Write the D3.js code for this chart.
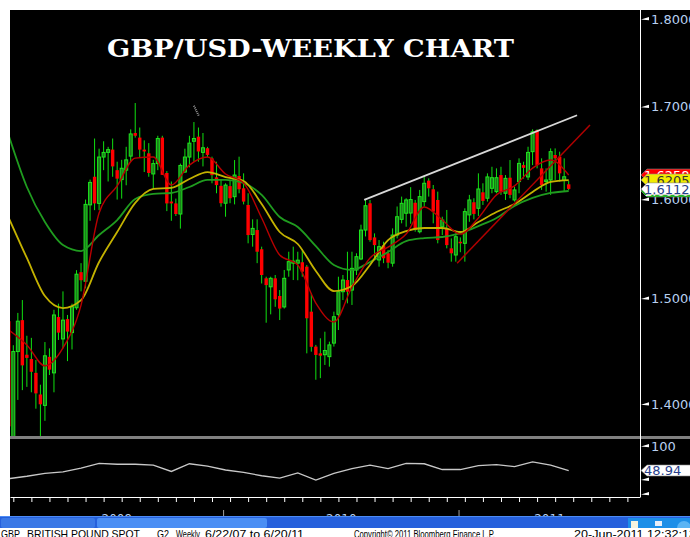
<!DOCTYPE html>
<html>
<head>
<meta charset="utf-8">
<script src="https://cdnjs.cloudflare.com/ajax/libs/d3/7.8.5/d3.min.js"></script>
<style>
  html, body { margin: 0; padding: 0; background: #fff; }
  svg { display: block; }
</style>
</head>
<body>
<div class="canvas"></div>
<script>
// weekly bars (Monday dated), GBP/USD
const firstWeek = new Date(2009, 1, 2);
const lastWeek = new Date(2011, 5, 20);
const weeks = d3.timeMonday.range(firstWeek, d3.timeDay.offset(lastWeek, 1));

const opens = [
  1.478, 1.368, 1.449, 1.479, 1.446, 1.442, 1.429, 1.409, 1.399, 1.444,
  1.429, 1.482, 1.461, 1.480, 1.467, 1.491, 1.526, 1.517, 1.5945, 1.624,
  1.596, 1.645, 1.650, 1.653, 1.631, 1.621, 1.631, 1.646, 1.671, 1.666,
  1.653, 1.649, 1.627, 1.638, 1.666, 1.628, 1.598, 1.596, 1.585, 1.629,
  1.645, 1.662, 1.667, 1.650, 1.6545, 1.6436, 1.6234, 1.6144, 1.5962, 1.6141,
  1.603, 1.6248, 1.6118, 1.5944, 1.5640, 1.5685, 1.549, 1.5199, 1.5115, 1.5199,
  1.5025, 1.4918, 1.5282, 1.535, 1.535, 1.5359, 1.5315, 1.4872, 1.4537, 1.4473,
  1.446, 1.4442, 1.457, 1.4846, 1.5067, 1.5182, 1.5083, 1.5282, 1.5392, 1.5685,
  1.5961, 1.561, 1.5382, 1.5529, 1.5449, 1.535, 1.5634, 1.5795, 1.5858, 1.586,
  1.5967, 1.5668, 1.5979, 1.6199, 1.6108, 1.5996, 1.5719, 1.5702, 1.5499, 1.5432,
  1.5566, 1.555, 1.5841, 1.5972, 1.5909, 1.6076, 1.6014, 1.6118, 1.6083, 1.6258,
  1.6066, 1.623, 1.5996, 1.6189, 1.6364, 1.6238, 1.6508, 1.6743, 1.6329, 1.6189,
  1.6206, 1.6472, 1.6454, 1.620, 1.616
];
const highs = [
  1.490, 1.455, 1.486, 1.4985, 1.464, 1.462, 1.441, 1.418, 1.458, 1.452,
  1.489, 1.495, 1.507, 1.484, 1.495, 1.528, 1.535, 1.600, 1.621, 1.665,
  1.654, 1.662, 1.656, 1.665, 1.640, 1.642, 1.656, 1.675, 1.704, 1.677,
  1.663, 1.660, 1.642, 1.668, 1.668, 1.630, 1.619, 1.601, 1.638, 1.654,
  1.668, 1.683, 1.677, 1.671, 1.656, 1.6454, 1.640, 1.6206, 1.6171, 1.6206,
  1.6418, 1.6454, 1.6276, 1.6066, 1.5795, 1.5795, 1.5516, 1.5215, 1.5215, 1.5232,
  1.5083, 1.5282, 1.5465, 1.5516, 1.5465, 1.549, 1.5332, 1.505, 1.4553, 1.4616,
  1.4679, 1.4584, 1.4872, 1.5215, 1.5232, 1.5465, 1.5465, 1.5449, 1.574, 1.5996,
  1.5996, 1.5651, 1.5583, 1.5566, 1.5482, 1.5702, 1.5928, 1.6031, 1.6014, 1.613,
  1.5996, 1.6101, 1.625, 1.6223, 1.6153, 1.6083, 1.5822, 1.5892, 1.560, 1.5651,
  1.561, 1.5909, 1.6049, 1.6014, 1.6276, 1.6171, 1.6276, 1.6346, 1.6329, 1.6346,
  1.6258, 1.6418, 1.6136, 1.6436, 1.640, 1.6561, 1.675, 1.675, 1.6436, 1.6329,
  1.6543, 1.6543, 1.6508, 1.6436, 1.6196
];
const lows = [
  1.372, 1.355, 1.404, 1.413, 1.416, 1.411, 1.396, 1.360, 1.385, 1.427,
  1.411, 1.460, 1.452, 1.440, 1.451, 1.489, 1.507, 1.510, 1.578, 1.589,
  1.589, 1.631, 1.619, 1.624, 1.600, 1.601, 1.615, 1.640, 1.666, 1.645,
  1.629, 1.624, 1.612, 1.631, 1.626, 1.588, 1.578, 1.583, 1.570, 1.628,
  1.634, 1.640, 1.640, 1.635, 1.645, 1.6171, 1.6066, 1.5926, 1.5822, 1.5962,
  1.595, 1.6066, 1.595, 1.555, 1.5516, 1.535, 1.5148, 1.4765, 1.4846, 1.4919,
  1.4791, 1.4902, 1.5215, 1.5182, 1.518, 1.5215, 1.4473, 1.4489, 1.4226, 1.4241,
  1.4364, 1.4348, 1.4537, 1.4695, 1.4985, 1.4953, 1.4937, 1.5232, 1.538, 1.562,
  1.5566, 1.5382, 1.5315, 1.535, 1.5299, 1.5315, 1.560, 1.5754, 1.5719, 1.575,
  1.5668, 1.5651, 1.5926, 1.6031, 1.5754, 1.555, 1.5634, 1.5499, 1.5365, 1.5365,
  1.546, 1.5365, 1.577, 1.5795, 1.583, 1.5944, 1.5979, 1.6066, 1.6066, 1.6049,
  1.5996, 1.6014, 1.5979, 1.6066, 1.622, 1.6206, 1.6364, 1.6329, 1.6101, 1.6083,
  1.6049, 1.6206, 1.6189, 1.6083, 1.610
];
const closes = [
  1.380, 1.449, 1.478, 1.436, 1.443, 1.430, 1.410, 1.400, 1.445, 1.432,
  1.484, 1.467, 1.479, 1.468, 1.492, 1.524, 1.518, 1.595, 1.618, 1.596,
  1.645, 1.650, 1.653, 1.635, 1.622, 1.633, 1.642, 1.670, 1.668, 1.653,
  1.651, 1.628, 1.638, 1.665, 1.626, 1.596, 1.596, 1.585, 1.636, 1.645,
  1.660, 1.665, 1.651, 1.655, 1.6473, 1.6257, 1.6152, 1.5962, 1.6152, 1.6014,
  1.6258, 1.6108, 1.5979, 1.5634, 1.5702, 1.5465, 1.5232, 1.5132, 1.5199, 1.4992,
  1.4902, 1.5199, 1.5365, 1.537, 1.538, 1.5265, 1.4808, 1.4535, 1.4458, 1.4451,
  1.450, 1.4553, 1.4823, 1.5067, 1.5182, 1.5067, 1.5298, 1.5415, 1.5685, 1.5936,
  1.5583, 1.5532, 1.5516, 1.5399, 1.5355, 1.5634, 1.5822, 1.5961, 1.5996, 1.600,
  1.5685, 1.6031, 1.6171, 1.6118, 1.5875, 1.5583, 1.5788, 1.5532, 1.5449, 1.5617,
  1.555, 1.5875, 1.5996, 1.5851, 1.6111, 1.5986, 1.6238, 1.623, 1.623, 1.6083,
  1.6223, 1.6049, 1.6101, 1.6382, 1.6335, 1.650, 1.6723, 1.6364, 1.6152, 1.6206,
  1.6508, 1.6436, 1.6276, 1.624, 1.6112
];

// moving averages + RSI, read every 4th week
const maRed = [
  1.4695, 1.4552, 1.4355, 1.4524, 1.4936, 1.5861, 1.6143, 1.6439, 1.6450, 1.6153,
  1.6364, 1.6450, 1.6269, 1.6174, 1.5809, 1.5432, 1.5332, 1.4956, 1.4772, 1.5113,
  1.5402, 1.5512, 1.5644, 1.5923, 1.5788, 1.5644, 1.5809, 1.6049, 1.6143, 1.6332,
  1.6418, 1.6258
];
const maYellow = [
  1.5809, 1.5402, 1.5024, 1.4907, 1.4985, 1.5362, 1.5665, 1.5965, 1.6111, 1.6122,
  1.6216, 1.6290, 1.6237, 1.6195, 1.5954, 1.5665, 1.5543, 1.5272, 1.5073, 1.5123,
  1.5332, 1.5583, 1.5675, 1.5706, 1.5706, 1.5665, 1.5767, 1.5871, 1.5954, 1.6080,
  1.6185, 1.6205
];
const maGreen = [
  1.668, 1.6132, 1.5767, 1.5532, 1.5472, 1.5634, 1.5788, 1.6006, 1.6059, 1.6069,
  1.6132, 1.6206, 1.6206, 1.6174, 1.6049, 1.5819, 1.5716, 1.5522, 1.5332, 1.5282,
  1.5362, 1.5462, 1.5573, 1.5603, 1.5614, 1.5654, 1.5726, 1.5809, 1.5934, 1.6017,
  1.6069, 1.6090
];
const rsiValues = [
  32, 37, 43, 46, 54, 64, 62, 62, 60, 47,
  63, 58, 50, 45, 38, 33, 44, 29, 43, 53,
  60, 53, 64, 63, 51, 51, 59, 61, 57, 67,
  60, 48.94
];

// hand drawn trend lines [date, price]
const upperTrend = [[new Date(2010, 7, 7), 1.5996], [new Date(2011, 6, 3), 1.6905]];
const lowerTrend = [[new Date(2010, 11, 29), 1.535], [new Date(2011, 6, 23), 1.6797]];
const dotNote = [[new Date(2009, 10, 16), 1.701], [new Date(2009, 10, 24), 1.689]];

const priceTicks = [1.4, 1.5, 1.6, 1.7, 1.8];
const rsiTicks = [100, 30, 0];
const years = [2009, 2010, 2011];
const lastClose = 1.6112;

const width = 690;
const height = 537;

const svg = d3.select('.canvas')
  .append('svg')
  .attr('width', width)
  .attr('height', height);

svg.append('rect').attr('width', width).attr('height', height).attr('fill', '#fff');
svg.append('rect')
  .attr('x', 10).attr('y', 10)
  .attr('width', 680).attr('height', 506)
  .attr('fill', '#000');

const defs = svg.append('defs');
defs.append('clipPath').attr('id', 'clipMain')
  .append('rect').attr('x', 10).attr('y', 10).attr('width', 630).attr('height', 426);
defs.append('clipPath').attr('id', 'clipRsi')
  .append('rect').attr('x', 10).attr('y', 440).attr('width', 630).attr('height', 57);

// scales
const x = d3.scaleTime().domain([firstWeek, lastWeek]).range([8.8, 568.7]);
const y = d3.scaleLog().domain([1.4, 1.8]).range([404.3, 19]);
const yRsi = d3.scaleLinear().domain([0, 100]).range([494, 446]);

const bars = weeks.map((date, i) => ({
  date, open: opens[i], high: highs[i], low: lows[i], close: closes[i]
}));
const maWeeks = weeks.filter((d, i) => i % 4 === 0);
const series = arr => maWeeks.map((date, i) => ({ date, value: arr[i] }));

const graph = svg.append('g').attr('clip-path', 'url(#clipMain)');

// wicks
graph.append('g')
  .selectAll('line')
  .data(bars)
  .enter()
  .append('line')
  .attr('x1', d => x(d.date))
  .attr('x2', d => x(d.date))
  .attr('y1', d => y(d.high))
  .attr('y2', d => y(d.low))
  .attr('stroke', '#10e010')
  .attr('stroke-width', 1);

// bodies
graph.append('g')
  .selectAll('rect')
  .data(bars)
  .enter()
  .append('rect')
  .attr('x', d => d.close >= d.open ? x(d.date) - 1.5 : x(d.date) - 1.7)
  .attr('width', d => d.close >= d.open ? 3 : 3.4)
  .attr('y', d => y(Math.max(d.open, d.close)))
  .attr('height', d => Math.max(1, Math.abs(y(d.open) - y(d.close))))
  .attr('fill', d => d.close >= d.open ? '#1c7e1c' : '#ff0000')
  .attr('stroke', d => d.close >= d.open ? '#1ee61e' : 'none')
  .attr('stroke-width', 1);

// moving averages
const maLine = d3.line()
  .x(d => x(d.date))
  .y(d => y(d.value))
  .curve(d3.curveMonotoneX);

graph.append('path').datum(series(maGreen))
  .attr('fill', 'none').attr('stroke', '#1f9c1f').attr('stroke-width', 1.8).attr('d', maLine);
graph.append('path').datum(series(maYellow))
  .attr('fill', 'none').attr('stroke', '#c4b200').attr('stroke-width', 1.8).attr('d', maLine);
graph.append('path').datum(series(maRed))
  .attr('fill', 'none').attr('stroke', '#b80000').attr('stroke-width', 1.4).attr('d', maLine);

// trend lines
const trend = d3.line().x(d => x(d[0])).y(d => y(d[1]));
graph.append('path').datum(upperTrend)
  .attr('fill', 'none').attr('stroke', '#d8d8d8').attr('stroke-width', 1.8).attr('d', trend);
graph.append('path').datum(lowerTrend)
  .attr('fill', 'none').attr('stroke', '#b00000').attr('stroke-width', 1.5).attr('d', trend);
graph.append('path').datum(dotNote)
  .attr('fill', 'none').attr('stroke', '#9a9a9a').attr('stroke-width', 2)
  .attr('stroke-dasharray', '1,1').attr('d', trend);

// title
svg.append('text')
  .text('GBP/USD-WEEKLY CHART')
  .attr('x', 107)
  .attr('y', 56.5)
  .attr('textLength', 407)
  .attr('lengthAdjust', 'spacingAndGlyphs')
  .attr('fill', '#fff')
  .attr('font-family', 'DejaVu Serif')
  .attr('font-weight', 'bold')
  .attr('font-size', 25);

// RSI panel
const rsiGraph = svg.append('g').attr('clip-path', 'url(#clipRsi)');
rsiGraph.append('path')
  .datum(series(rsiValues))
  .attr('fill', 'none')
  .attr('stroke', '#c8c8c8')
  .attr('stroke-width', 1.3)
  .attr('d', d3.line().x(d => x(d.date)).y(d => yRsi(d.value)));

// separator between panels
svg.append('rect').attr('x', 10).attr('y', 436).attr('width', 680).attr('height', 3).attr('fill', '#808080');

// right axis line
svg.append('line')
  .attr('x1', 640.5).attr('x2', 640.5)
  .attr('y1', 10).attr('y2', 497)
  .attr('stroke', '#fff');

const axisColor = '#b8d0f0';
const tickFlag = 'M0,0 L8,-2.5 L8,0.8 Z';

const yAxis = d3.axisRight(y)
  .tickValues(priceTicks)
  .tickFormat(d3.format('.4f'))
  .tickSize(0)
  .tickPadding(10);

const yAxisGroup = svg.append('g')
  .attr('transform', 'translate(641,0)')
  .call(yAxis)
  .attr('font-family', 'DejaVu Sans')
  .attr('font-size', 13);
yAxisGroup.select('.domain').remove();
yAxisGroup.selectAll('text').attr('fill', axisColor);
yAxisGroup.selectAll('.tick').append('path').attr('d', tickFlag).attr('fill', '#fff');

const rsiAxis = d3.axisRight(yRsi)
  .tickValues(rsiTicks)
  .tickFormat(d => d === 100 ? '100' : '')
  .tickSize(0)
  .tickPadding(10);

const rsiAxisGroup = svg.append('g')
  .attr('transform', 'translate(641,0)')
  .call(rsiAxis)
  .attr('font-family', 'DejaVu Sans')
  .attr('font-size', 13);
rsiAxisGroup.select('.domain').remove();
rsiAxisGroup.selectAll('text').attr('fill', axisColor);
rsiAxisGroup.selectAll('.tick').append('path').attr('d', tickFlag).attr('fill', '#fff');

// last value flags on the right axis
const flag = (value, scale, fill, textColor, h) => {
  const yy = scale(value);
  const g = svg.append('g').attr('transform', `translate(641,${yy})`);
  g.append('path')
    .attr('d', `M0,0 L6,${-h / 2} L60,${-h / 2} L60,${h / 2} L6,${h / 2} Z`)
    .attr('fill', fill)
    .attr('stroke', '#8a8a8a')
    .attr('stroke-width', 0.6);
  g.append('text')
    .text(value.toFixed(scale === y ? 4 : 2))
    .attr('x', 3)
    .attr('dy', '0.36em')
    .attr('fill', textColor)
    .attr('font-family', 'DejaVu Sans')
    .attr('font-size', 13);
};

flag(maRed[maRed.length - 1], y, '#ff0000', '#ffffff', 12);
flag(maYellow[maYellow.length - 1], y, '#f2ec00', '#333333', 12);
flag(maGreen[maGreen.length - 1], y, '#00c000', '#ffffff', 12);
flag(lastClose, y, '#ffffff', '#27408b', 12);
flag(rsiValues[rsiValues.length - 1], yRsi, '#ffffff', '#27408b', 11);

// time axis under the RSI panel
const xAxisScale = x.copy().domain([x.invert(10), x.invert(640)]).range([10, 640]);
const xAxis = d3.axisBottom(xAxisScale)
  .tickValues(d3.timeMonday.range(weeks[1], x.invert(640), 4))
  .tickSize(5)
  .tickSizeOuter(0)
  .tickFormat('');

const xAxisGroup = svg.append('g')
  .attr('transform', 'translate(0,497)')
  .call(xAxis);
xAxisGroup.selectAll('path, line').attr('stroke', '#fff');

// year labels and separators (mostly under the taskbar)
years.forEach(yr => {
  const a = Math.max(10, x(new Date(yr, 0, 1)));
  const b = Math.min(640, x(new Date(yr + 1, 0, 1)));
  svg.append('text')
    .text(yr)
    .attr('x', (a + b) / 2)
    .attr('y', 523)
    .attr('text-anchor', 'middle')
    .attr('fill', axisColor)
    .attr('font-family', 'DejaVu Sans')
    .attr('font-size', 12);
  if (yr > 2009) {
    svg.append('line')
      .attr('x1', a).attr('x2', a)
      .attr('y1', 510).attr('y2', 516)
      .attr('stroke', '#a0a0a0');
  }
});

// windows taskbar strip
svg.append('rect').attr('x', 0).attr('y', 516).attr('width', width).attr('height', 12).attr('fill', '#2660dc');
svg.append('rect').attr('x', 0).attr('y', 516).attr('width', width).attr('height', 1).attr('fill', '#4d8cf5');
svg.append('rect').attr('x', 1).attr('y', 518).attr('width', 94).attr('height', 10).attr('rx', 2).attr('fill', '#3a78e6');
svg.append('rect').attr('x', 97).attr('y', 518).attr('width', 170).attr('height', 10).attr('rx', 2).attr('fill', '#4a8ef4');
svg.append('rect').attr('x', 628).attr('y', 518).attr('width', 62).attr('height', 10).attr('fill', '#1d8fe8');
svg.append('rect').attr('x', 631).attr('y', 521).attr('width', 7).attr('height', 7).attr('fill', '#f4f4e0');
svg.append('rect').attr('x', 655).attr('y', 521).attr('width', 7).attr('height', 5).attr('fill', '#e8eef8');
svg.append('circle').attr('cx', 684).attr('cy', 528).attr('r', 7).attr('fill', '#5ab4f4');

// status line
svg.append('rect').attr('x', 0).attr('y', 528).attr('width', width).attr('height', 9).attr('fill', '#fff');
const status = [
  ['GBP', 1, 19],
  ['BRITISH POUND SPOT', 27, 113],
  ['G2', 157, 12],
  ['Weekly', 176, 24],
  ['6/22/07 to 6/20/11', 205, 99],
  ['Copyright\u00a9 2011 Bloomberg Finance L.P.', 354, 141],
  ['20-Jun-2011 12:32:13', 574, 122]
];
svg.append('g')
  .selectAll('text')
  .data(status)
  .enter()
  .append('text')
  .text(d => d[0])
  .attr('x', d => d[1])
  .attr('y', 537.5)
  .attr('textLength', d => d[2])
  .attr('lengthAdjust', 'spacingAndGlyphs')
  .attr('fill', '#000')
  .attr('font-family', 'Liberation Sans')
  .attr('font-size', 11);
</script>
</body>
</html>
